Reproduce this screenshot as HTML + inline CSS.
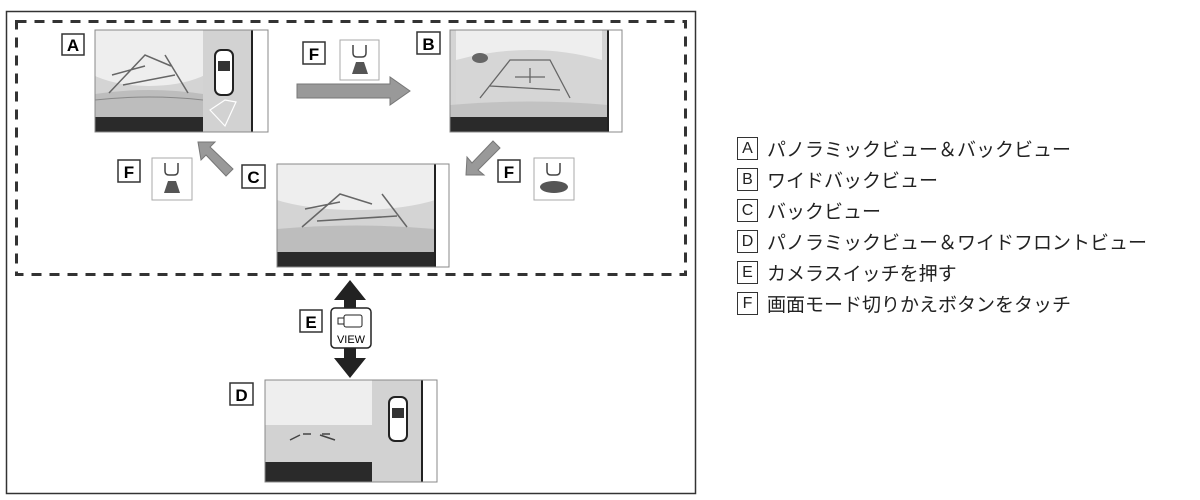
<!DOCTYPE html>
<html><head><meta charset="utf-8"><style>
body{margin:0;background:#fff;width:1200px;height:500px;overflow:hidden;font-family:"Liberation Sans","Noto Sans CJK JP",sans-serif}
.lg{position:absolute;left:737px;font-size:19px;color:#222;display:flex;align-items:center;height:26px}
.lg b{display:inline-block;width:19px;height:21px;border:1.3px solid #333;font-weight:normal;font-size:16px;text-align:center;line-height:21px;margin-right:9px}
</style></head><body>
<svg width="1200" height="500" style="position:absolute;left:0;top:0" font-family="Liberation Sans, sans-serif">
<rect x="6.5" y="11.5" width="689" height="482" fill="none" stroke="#333" stroke-width="1.5"/>
<rect x="16.5" y="21.5" width="669" height="253" fill="none" stroke="#333" stroke-width="3" stroke-dasharray="10,8"/>

<!-- A -->
<rect x="62" y="34" width="22" height="21" fill="#fff" stroke="#333" stroke-width="1.5"/>
<text x="73" y="51" font-size="17" font-weight="bold" text-anchor="middle">A</text>
<svg x="95" y="30" width="108" height="87">
 <rect width="108" height="87" fill="#d4d4d4"/>
 <ellipse cx="54" cy="26" rx="72" ry="30" fill="#eeeeee"/>
 <rect width="108" height="12" fill="#eeeeee"/>
 <path d="M0 64 Q54 56 108 64 L108 87 L0 87Z" fill="#bdbdbd"/>
 <path d="M0 70 Q54 64 108 70" stroke="#888" fill="none"/>
 <path d="M14 63 L50 25 L76 36 M28 55 L80 45 M70 25 L93 63 M17 45 L50 36" stroke="#666" fill="none" stroke-width="1.5"/>
</svg>
<rect x="95" y="117" width="108" height="15" fill="#2a2a2a"/>
<rect x="203" y="30" width="49" height="102" fill="#d2d2d2"/>
<rect x="215" y="50" width="18" height="45" rx="6" fill="#fff" stroke="#222" stroke-width="2"/>
<rect x="218" y="61" width="12" height="10" fill="#333"/>
<path d="M210 110 L225 100 L236 102 L225 126Z" fill="none" stroke="#fff" stroke-width="1.2"/>
<rect x="252" y="30" width="16" height="102" fill="#fff" stroke="#999"/>
<line x1="252" y1="30" x2="252" y2="132" stroke="#222" stroke-width="2"/>
<rect x="95" y="30" width="173" height="102" fill="none" stroke="#888"/>

<!-- F top -->
<rect x="303" y="42" width="22" height="22" fill="#fff" stroke="#333" stroke-width="1.5"/>
<text x="314" y="60" font-size="17" font-weight="bold" text-anchor="middle">F</text>
<rect x="340" y="40" width="39" height="40" fill="#fff" stroke="#aaa"/>
<path d="M353 45 v8 q0 4 4 4 h5 q4 0 4-4 v-8" stroke="#444" fill="none" stroke-width="1.5"/>
<path d="M352 74 L356 62 L364 62 L368 74 Z" fill="#555"/>
<polygon points="297,84 390,84 390,77 410,91 390,105 390,98 297,98" fill="#999" stroke="#777"/>

<!-- B -->
<rect x="417" y="32" width="23" height="22" fill="#fff" stroke="#333" stroke-width="1.5"/>
<text x="428.5" y="50" font-size="17" font-weight="bold" text-anchor="middle">B</text>
<svg x="450" y="30" width="158" height="87">
 <rect width="158" height="87" fill="#d4d4d4"/>
 <rect x="6" y="0" width="146" height="87" fill="#eeeeee"/>
 <path d="M6 30 Q80 10 152 30 L152 80 L6 80Z" fill="#d6d6d6"/>
 <path d="M0 75 Q80 68 158 75 L158 87 L0 87Z" fill="#c2c2c2"/>
 <path d="M30 68 L60 30 L100 30 L120 68 M40 56 L110 60 M80 38 v15 M65 47 h30" stroke="#666" fill="none" stroke-width="1.3"/>
 <ellipse cx="30" cy="28" rx="8" ry="5" fill="#666"/>
</svg>
<rect x="450" y="117" width="158" height="15" fill="#2a2a2a"/>
<rect x="608" y="30" width="14" height="102" fill="#fff" stroke="#999"/>
<line x1="608" y1="30" x2="608" y2="132" stroke="#222" stroke-width="2"/>
<rect x="450" y="30" width="172" height="102" fill="none" stroke="#888"/>

<polygon points="493,141 500,148 478,170 484,175 466,175 467,157 472,163" fill="#999" stroke="#777"/>
<rect x="498" y="160" width="22" height="22" fill="#fff" stroke="#333" stroke-width="1.5"/>
<text x="509" y="178" font-size="17" font-weight="bold" text-anchor="middle">F</text>
<rect x="534" y="158" width="40" height="42" fill="#fff" stroke="#aaa"/>
<path d="M547 163 v8 q0 4 4 4 h5 q4 0 4-4 v-8" stroke="#444" fill="none" stroke-width="1.5"/>
<ellipse cx="554" cy="187" rx="14" ry="6" fill="#555"/>

<!-- C -->
<rect x="242" y="165" width="23" height="23" fill="#fff" stroke="#333" stroke-width="1.5"/>
<text x="253.5" y="183" font-size="17" font-weight="bold" text-anchor="middle">C</text>
<svg x="277" y="164" width="158" height="88">
 <rect width="158" height="88" fill="#d4d4d4"/>
 <ellipse cx="79" cy="20" rx="100" ry="26" fill="#eeeeee"/><rect width="158" height="12" fill="#eeeeee"/>
 <path d="M0 65 Q79 58 158 65 L158 88 L0 88Z" fill="#bdbdbd"/>
 <path d="M25 63 L63 30 L95 40 M40 57 L120 52 M105 30 L130 63 M28 45 L63 38" stroke="#666" fill="none" stroke-width="1.5"/>
</svg>
<rect x="277" y="252" width="158" height="15" fill="#2a2a2a"/>
<rect x="435" y="164" width="14" height="103" fill="#fff" stroke="#999"/>
<line x1="435" y1="164" x2="435" y2="267" stroke="#222" stroke-width="2"/>
<rect x="277" y="164" width="172" height="103" fill="none" stroke="#888"/>

<polygon points="233,169 226,176 206,155 201,160 198,142 215,142 210,147" fill="#999" stroke="#777"/>
<rect x="118" y="160" width="22" height="22" fill="#fff" stroke="#333" stroke-width="1.5"/>
<text x="129" y="178" font-size="17" font-weight="bold" text-anchor="middle">F</text>
<rect x="152" y="158" width="40" height="42" fill="#fff" stroke="#aaa"/>
<path d="M165 163 v8 q0 4 4 4 h5 q4 0 4-4 v-8" stroke="#444" fill="none" stroke-width="1.5"/>
<path d="M164 193 L168 181 L176 181 L180 193 Z" fill="#555"/>

<!-- E -->
<polygon points="350,280 366,300 356,300 356,358 366,358 350,378 334,358 344,358 344,300 334,300" fill="#222"/>
<rect x="331" y="308" width="40" height="40" rx="4" fill="#fff" stroke="#222" stroke-width="1.5"/>
<rect x="344" y="315" width="18" height="12" rx="2" fill="none" stroke="#222"/>
<rect x="338" y="318" width="6" height="6" fill="none" stroke="#222"/>
<text x="351" y="343" font-size="11" text-anchor="middle">VIEW</text>
<rect x="300" y="310" width="22" height="22" fill="#fff" stroke="#333" stroke-width="1.5"/>
<text x="311" y="328" font-size="17" font-weight="bold" text-anchor="middle">E</text>

<!-- D -->
<rect x="230" y="383" width="23" height="22" fill="#fff" stroke="#333" stroke-width="1.5"/>
<text x="241.5" y="401" font-size="17" font-weight="bold" text-anchor="middle">D</text>
<rect x="265" y="380" width="107" height="102" fill="#eeeeee"/>
<rect x="265" y="425" width="107" height="40" fill="#d2d2d2"/>
<path d="M290 440 L300 435 M320 435 L335 440 M303 434 h8 M330 434 h-8" stroke="#444" stroke-width="1.5"/>
<rect x="265" y="462" width="107" height="20" fill="#2a2a2a"/>
<rect x="372" y="380" width="50" height="102" fill="#d2d2d2"/>
<rect x="389" y="397" width="18" height="44" rx="6" fill="#fff" stroke="#222" stroke-width="2"/>
<rect x="392" y="408" width="12" height="10" fill="#333"/>
<rect x="422" y="380" width="15" height="102" fill="#fff" stroke="#999"/>
<line x1="422" y1="380" x2="422" y2="482" stroke="#222" stroke-width="2"/>
<rect x="265" y="380" width="172" height="102" fill="none" stroke="#888"/>
</svg>
<div class="lg" style="top:135px"><b>A</b>パノラミックビュー＆バックビュー</div>
<div class="lg" style="top:166px"><b>B</b>ワイドバックビュー</div>
<div class="lg" style="top:197px"><b>C</b>バックビュー</div>
<div class="lg" style="top:228px"><b>D</b>パノラミックビュー＆ワイドフロントビュー</div>
<div class="lg" style="top:259px"><b>E</b>カメラスイッチを押す</div>
<div class="lg" style="top:290px"><b>F</b>画面モード切りかえボタンをタッチ</div>
</body></html>
